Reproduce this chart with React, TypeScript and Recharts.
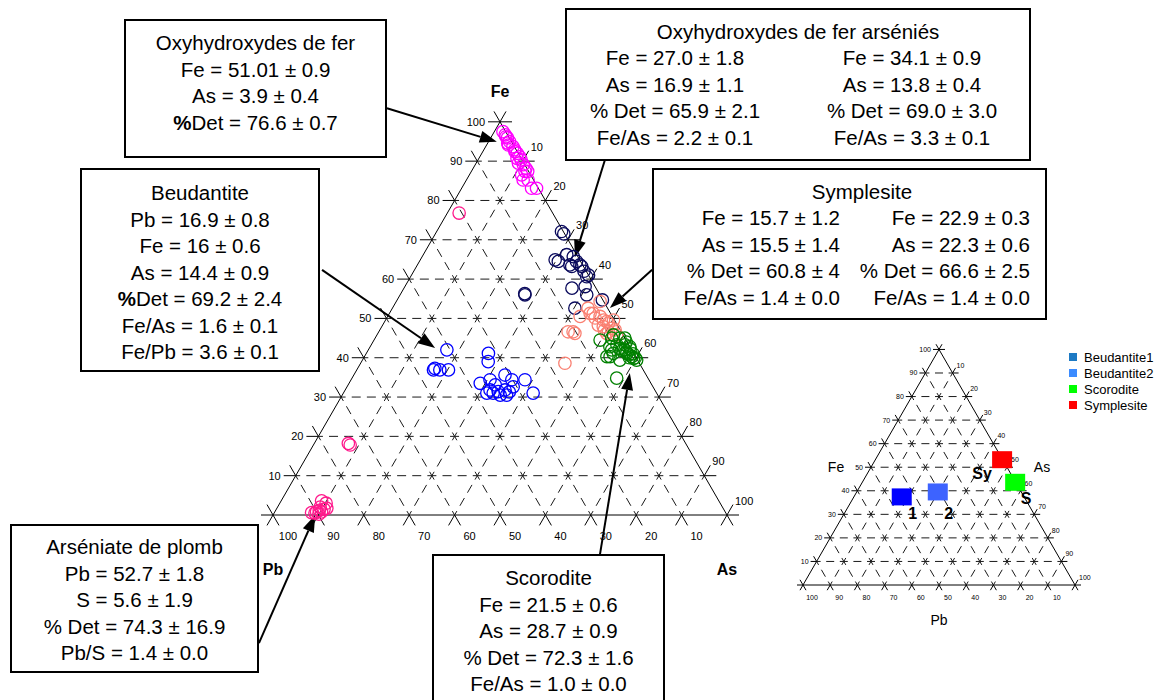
import React from 'react'
import { ScatterChart, Scatter, XAxis, YAxis, ReferenceLine } from 'recharts'

const K = Math.sqrt(3) / 2
const STEPS = [0, 10, 20, 30, 40, 50, 60, 70, 80, 90, 100]
const FONT = '"Liberation Sans", Arial, sans-serif'

// analyses as [Fe, As] in %, Pb = 100 - Fe - As
const oxyFer = [
  [97.5, 1.9], [96.7, 2.8], [96.2, 3.2], [95.9, 3.7], [95.0, 4.6], [94.6, 4.4], [94.1, 4.8], [93.7, 6.0],
  [92.9, 6.8], [92.4, 7.1], [92.0, 7.8], [91.1, 8.8], [90.7, 8.4], [90.3, 9.5], [89.5, 9.3], [89.1, 10.6],
  [88.2, 11.6], [87.4, 11.8], [86.5, 11.5], [87.4, 12.4], [85.2, 13.6], [85.2, 12.5], [83.1, 15.4], [83.1, 16.5],
]
const oxyFerArsenie = [
  [72.1, 27.5], [71.5, 28.3], [64.9, 29.7], [64.5, 30.6], [66.2, 31.6], [65.7, 33.3], [64.5, 34.6], [63.2, 36.4],
  [63.2, 34.2], [63.6, 35.8], [63.6, 33.6], [62.0, 37.5], [60.6, 38.8], [61.0, 39.0], [58.1, 39.7], [57.7, 37.0],
  [56.0, 41.1], [52.6, 40.2], [56.0, 27.5], [56.3, 27.3], [54.7, 45.2],
]
const symplesite = [
  [54.3, 44.9], [52.6, 43.1], [51.3, 44.2], [51.3, 44.9], [50.5, 42.4], [50.1, 45.9], [50.5, 46.8], [49.2, 48.9],
  [49.6, 50.2], [49.6, 48.0], [48.8, 49.5], [48.3, 47.5], [47.9, 48.8], [47.5, 50.8], [47.0, 49.5], [46.6, 50.6],
  [47.1, 51.8], [46.2, 50.4], [45.8, 52.8], [46.6, 42.8], [46.6, 41.7], [46.2, 43.4], [38.6, 45.0],
]
const scorodite = [
  [44.5, 49.8], [45.0, 52.1], [45.8, 52.1], [45.0, 53.9], [45.0, 55.0], [44.0, 55.8], [42.8, 52.8], [43.3, 54.1],
  [43.3, 55.9], [42.4, 55.2], [42.0, 53.6], [42.8, 57.2], [42.2, 57.6], [42.0, 56.5], [41.8, 56.0], [41.5, 57.0],
  [41.1, 57.4], [41.1, 54.4], [41.0, 58.8], [40.8, 58.0], [40.3, 58.9], [40.3, 53.4], [40.3, 54.1], [40.0, 59.8],
  [40.0, 58.5], [39.8, 59.5], [39.4, 56.7], [39.4, 60.4], [34.8, 58.3],
]
const beudantite = [
  [42.0, 17.3], [37.3, 17.0], [36.9, 18.3], [36.9, 20.2], [36.9, 16.9], [41.1, 26.9], [39.0, 27.9], [35.6, 33.3],
  [34.4, 35.4], [34.4, 38.3], [33.5, 28.9], [34.4, 30.6], [33.1, 32.4], [31.4, 33.9], [31.8, 31.9], [30.5, 36.2],
  [32.6, 36.6], [31.0, 41.8], [31.0, 31.6], [30.5, 34.8], [31.0, 33.0], [31.8, 35.2], [31.3, 36.4],
]
const arseniatePlomb = [
  [76.8, 2.6], [17.8, 8.1], [18.2, 7.5], [3.6, 8.9], [3.0, 10.2], [2.0, 9.4], [1.7, 11.0], [1.5, 10.5],
  [1.2, 9.6], [0.8, 9.2], [0.8, 10.3], [0.6, 8.2], [0.5, 9.0], [0.2, 10.0],
]

// inset: mean compositions
const insetNames = ['Beudantite1', 'Beudantite2', 'Scorodite', 'Symplesite']
const insetFe = [37.4, 39.5, 43.6, 53.2]
const insetAs = [17.6, 29.8, 56.2, 46.6]
const insetTags = ['1', '2', 'S', 'Sy']
const insetColors = ['#0000FF', '#3D63FF', '#00FF00', '#FF0000']
const legendColors = ['#1D7AC4', '#3B8BFF', '#00FF00', '#FF0000']
const tagOffsets = [[11, 22], [11, 27], [11, 22], [-20, 19]]

type XY = { x: number; y: number }
const toXY = (p: number[]): XY => ({ x: p[1] + p[0] / 2, y: p[0] * K })

const FAMILIES = [
  { a: (c: number) => ({ x: c / 2, y: c * K }), b: (c: number) => ({ x: 100 - c / 2, y: c * K }), d: { x: 1, y: 0 } },
  { a: (c: number) => ({ x: c, y: 0 }), b: (c: number) => ({ x: 50 + c / 2, y: (100 - c) * K }), d: { x: 0.5, y: K } },
  { a: (c: number) => ({ x: 100 - c, y: 0 }), b: (c: number) => ({ x: (100 - c) / 2, y: (100 - c) * K }), d: { x: -0.5, y: K } },
]

interface Frame {
  left: number
  top: number
  w: number
  h: number
  scale: number
  ox: number
  oy: number
  ext: number
  dash: string
  dashOffset: number
  tickFont: number
  off: { fe: number[]; as: number[]; pb: number[] }
}

const MAIN: Frame = {
  left: 0, top: 0, w: 1163, h: 700, scale: 4.54, ox: 273, oy: 515, ext: 12,
  dash: '9 6.13', dashOffset: 4.5, tickFont: 11,
  off: { fe: [-3, 4], as: [2, 0], pb: [9, 15] },
}
const INSET: Frame = {
  left: 780, top: 330, w: 383, h: 310, scale: 2.72, ox: 23, oy: 255, ext: 6,
  dash: '8 5.6', dashOffset: 4, tickFont: 7,
  off: { fe: [-2, 2.5], as: [1, 0], pb: [6, 10] },
}

// arrows, chart units of the main plot: [x1, y1, x2, y2]
const arrows = [
  [25.1, 89.6, 49.3, 82.2],
  [73.1, 78.2, 66.5, 56.8],
  [10.8, 54.0, 35.7, 36.8],
  [83.5, 54.0, 74.2, 45.6],
  [72.0, -8.8, 78.6, 31.3],
  [-3.1, -28.2, 9.3, 0.0],
]

const gridLines = (f: Frame, prefix: string) => {
  const e = f.ext / f.scale
  const out: React.ReactElement[] = []
  FAMILIES.forEach((fam, fi) =>
    STEPS.forEach((c) => {
      const a = fam.a(c)
      const b = fam.b(c)
      const a0 = { x: a.x - e * fam.d.x, y: a.y - e * fam.d.y }
      const b1 = { x: b.x + e * fam.d.x, y: b.y + e * fam.d.y }
      const k = `${prefix}-${fi}-${c}`
      if (c < 100) {
        out.push(
          <ReferenceLine
            key={k + 'i'}
            segment={[a, b]}
            stroke={c === 0 ? '#000' : '#1a1a1a'}
            strokeWidth={1}
            strokeDasharray={c === 0 ? undefined : f.dash}
            strokeDashoffset={f.dashOffset}
            ifOverflow='visible'
          />
        )
      }
      out.push(<ReferenceLine key={k + 'a'} segment={[a0, a]} stroke='#000' strokeWidth={1} ifOverflow='visible' />)
      out.push(<ReferenceLine key={k + 'b'} segment={[b, b1]} stroke='#000' strokeWidth={1} ifOverflow='visible' />)
    })
  )
  return out
}

const tickData = (f: Frame) => {
  const e = f.ext / f.scale
  const out: any[] = []
  STEPS.filter((c) => c > 0).forEach((c) => {
    const fe = FAMILIES[0].a(c)
    out.push({ x: fe.x - e, y: fe.y, text: String(c), kind: 'fe' })
    const as = FAMILIES[1].b(c)
    out.push({ x: as.x + e * 0.5, y: as.y + e * K, text: String(c), kind: 'as' })
    const pb = FAMILIES[2].a(c)
    out.push({ x: pb.x + e * 0.5, y: pb.y - e * K, text: String(c), kind: 'pb' })
  })
  return out
}

const tickShape = (f: Frame) => (p: any) => {
  const kind = p.payload.kind as 'fe' | 'as' | 'pb'
  const [dx, dy] = f.off[kind]
  return (
    <text
      x={p.cx + dx}
      y={p.cy + dy}
      textAnchor={kind === 'fe' ? 'end' : kind === 'as' ? 'start' : 'middle'}
      fontSize={f.tickFont}
      fontFamily={FONT}
      fill='#000'
    >
      {p.payload.text}
    </text>
  )
}

const ring = (color: string) => (p: any) => (
  <circle cx={p.cx} cy={p.cy} r={6.2} fill='none' stroke={color} strokeWidth={1.3} />
)

const ArrowShape = (p: any) => {
  const { x1, y1, x2, y2 } = p
  const a = Math.atan2(y2 - y1, x2 - x1)
  const c = Math.cos(a)
  const s = Math.sin(a)
  const bx = x2 - 17 * c
  const by = y2 - 17 * s
  return (
    <g>
      <line x1={x1} y1={y1} x2={bx} y2={by} stroke='#000' strokeWidth={2} />
      <polygon points={`${x2},${y2} ${bx - 6 * s},${by + 6 * c} ${bx + 6 * s},${by - 6 * c}`} fill='#000' />
    </g>
  )
}

const TernaryChart = ({ f, prefix, children }: { f: Frame; prefix: string; children?: React.ReactNode }) => {
  const xd = [-f.ox / f.scale, (f.w - f.ox) / f.scale]
  const yd = [(f.oy - f.h) / f.scale, f.oy / f.scale]
  return (
    <div style={{ position: 'absolute', left: f.left, top: f.top }}>
      <ScatterChart width={f.w} height={f.h} margin={{ top: 0, right: 0, bottom: 0, left: 0 }}>
        <XAxis type='number' dataKey='x' domain={xd} hide allowDataOverflow />
        <YAxis type='number' dataKey='y' domain={yd} hide allowDataOverflow />
        {gridLines(f, prefix)}
        <Scatter data={tickData(f)} shape={tickShape(f)} isAnimationActive={false} />
        {children}
      </ScatterChart>
    </div>
  )
}

const Txt = ({ x, y, size, bold, children }: { x: number; y: number; size: number; bold?: boolean; children: React.ReactNode }) => (
  <div
    style={{
      position: 'absolute', left: x, top: y, transform: 'translate(-50%, -50%)', whiteSpace: 'nowrap',
      fontSize: size, fontWeight: bold ? 'bold' : 'normal', lineHeight: 1,
    }}
  >
    {children}
  </div>
)

const LH = 26.5
const BoxFrame = ({ left, top, width, height, children }: any) => (
  <div
    style={{
      position: 'absolute', left, top, width, height, border: '2px solid #000', boxSizing: 'border-box',
      fontSize: 20.5, lineHeight: `${LH}px`, whiteSpace: 'nowrap',
    }}
  >
    {children}
  </div>
)

const Lines = ({ top, left, width, align, lines }: any) => (
  <div style={{ position: 'absolute', top, left, width, textAlign: align }}>
    {lines.map((l: React.ReactNode, i: number) => (
      <div key={i}>{l}</div>
    ))}
  </div>
)

const pct = <><b>%</b>Det</>

export default function App() {
  const mainSeries = [
    { data: oxyFer, color: '#FF00FF' },
    { data: oxyFerArsenie, color: '#0A0A5C' },
    { data: beudantite, color: '#0000FF' },
    { data: symplesite, color: '#FA8072' },
    { data: scorodite, color: '#008000' },
    { data: arseniatePlomb, color: '#FF1A8C' },
  ]
  const insetData = insetNames.map((n, i) => ({ ...toXY([insetFe[i], insetAs[i]]), i }))
  return (
    <div
      style={{
        position: 'absolute', left: 0, top: 0, width: 1163, height: 700, background: '#fff',
        fontFamily: FONT, color: '#000', overflow: 'hidden',
      }}
    >
      <TernaryChart f={MAIN} prefix='m'>
        {mainSeries.map((s, i) => (
          <Scatter key={'s' + i} data={s.data.map(toXY)} shape={ring(s.color)} isAnimationActive={false} />
        ))}
        {arrows.map((a, i) => (
          <ReferenceLine
            key={'ar' + i}
            segment={[{ x: a[0], y: a[1] }, { x: a[2], y: a[3] }]}
            shape={ArrowShape}
            ifOverflow='visible'
          />
        ))}
      </TernaryChart>

      <TernaryChart f={INSET} prefix='n'>
        <Scatter
          data={insetData}
          isAnimationActive={false}
          shape={(p: any) => (
            <rect x={p.cx - 10} y={p.cy - 8.5} width={20} height={17} fill={insetColors[p.payload.i]} />
          )}
        />
        <Scatter
          data={insetData}
          isAnimationActive={false}
          shape={(p: any) => (
            <text
              x={p.cx + tagOffsets[p.payload.i][0]}
              y={p.cy + tagOffsets[p.payload.i][1]}
              textAnchor='middle'
              fontSize={16}
              fontWeight='bold'
              fontFamily={FONT}
              fill='#000'
            >
              {insetTags[p.payload.i]}
            </text>
          )}
        />
      </TernaryChart>

      <Txt x={500} y={92} size={16} bold>Fe</Txt>
      <Txt x={273} y={570} size={16} bold>Pb</Txt>
      <Txt x={727} y={570} size={16} bold>As</Txt>

      <Txt x={836} y={467} size={14}>Fe</Txt>
      <Txt x={1042} y={467} size={14}>As</Txt>
      <Txt x={939} y={620} size={14}>Pb</Txt>

      {insetNames.map((n, i) => (
        <div key={n} style={{ position: 'absolute', left: 1069, top: 350 + i * 16, height: 14, display: 'flex', alignItems: 'center', fontSize: 13 }}>
          <span style={{ display: 'inline-block', width: 8, height: 8, background: legendColors[i], marginRight: 7 }} />
          {n}
        </div>
      ))}

      <BoxFrame left={124} top={19} width={263} height={139}>
        <Lines top={9} left={0} width={259} align='center' lines={[
          'Oxyhydroxydes de fer', 'Fe = 51.01 ± 0.9', 'As = 3.9 ± 0.4', <>{pct} = 76.6 ± 0.7</>,
        ]} />
      </BoxFrame>

      <BoxFrame left={565} top={8} width={466} height={153}>
        <Lines top={9} left={0} width={462} align='center' lines={['Oxyhydroxydes de fer arséniés']} />
        <Lines top={35} left={-2} width={220} align='center' lines={[
          'Fe = 27.0 ± 1.8', 'As = 16.9 ± 1.1', '% Det = 65.9 ± 2.1', 'Fe/As = 2.2 ± 0.1',
        ]} />
        <Lines top={35} left={235} width={220} align='center' lines={[
          'Fe = 34.1 ± 0.9', 'As = 13.8 ± 0.4', '% Det = 69.0 ± 3.0', 'Fe/As = 3.3 ± 0.1',
        ]} />
      </BoxFrame>

      <BoxFrame left={80} top={168} width={240} height={204}>
        <Lines top={10} left={0} width={236} align='center' lines={[
          'Beudantite', 'Pb = 16.9 ± 0.8', 'Fe = 16 ± 0.6', 'As = 14.4 ± 0.9', <>{pct} = 69.2 ± 2.4</>,
          'Fe/As = 1.6 ± 0.1', 'Fe/Pb = 3.6 ± 0.1',
        ]} />
      </BoxFrame>

      <BoxFrame left={652} top={168} width={395} height={152}>
        <Lines top={9} left={0} width={416} align='center' lines={['Symplesite']} />
        <Lines top={35} left={0} width={186} align='right' lines={[
          'Fe = 15.7 ± 1.2', 'As = 15.5 ± 1.4', '% Det = 60.8 ± 4', 'Fe/As = 1.4 ± 0.0',
        ]} />
        <Lines top={35} left={190} width={186} align='right' lines={[
          'Fe = 22.9 ± 0.3', 'As = 22.3 ± 0.6', '% Det = 66.6 ± 2.5', 'Fe/As = 1.4 ± 0.0',
        ]} />
      </BoxFrame>

      <BoxFrame left={10} top={524} width={249} height={149}>
        <Lines top={8} left={0} width={245} align='center' lines={[
          'Arséniate de plomb', 'Pb = 52.7 ± 1.8', 'S = 5.6 ± 1.9', '% Det = 74.3 ± 16.9', 'Pb/S = 1.4 ± 0.0',
        ]} />
      </BoxFrame>

      <BoxFrame left={432} top={554} width={233} height={160}>
        <Lines top={9} left={0} width={229} align='center' lines={[
          'Scorodite', 'Fe = 21.5 ± 0.6', 'As = 28.7 ± 0.9', '% Det = 72.3 ± 1.6', 'Fe/As = 1.0 ± 0.0',
        ]} />
      </BoxFrame>
    </div>
  )
}
